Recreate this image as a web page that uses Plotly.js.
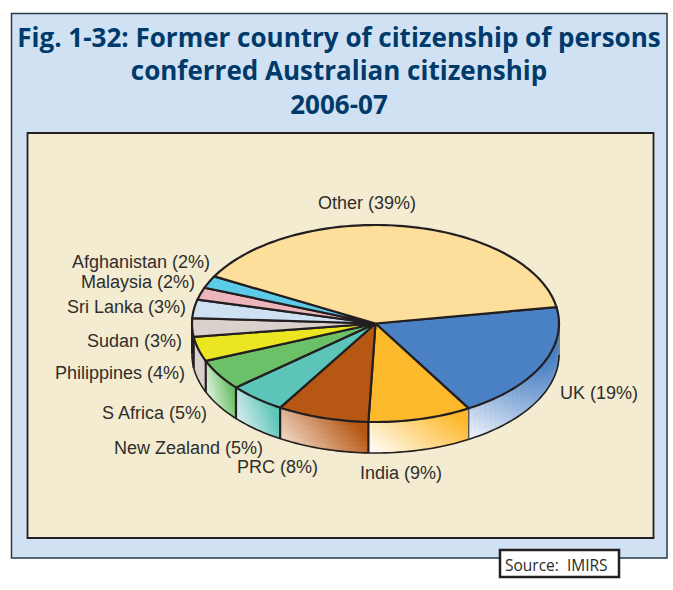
<!DOCTYPE html>
<html>
<head>
<meta charset="utf-8">
<script src="https://cdn.plot.ly/plotly-3.0.1.min.js"></script>
<style>html,body{margin:0;padding:0;background:#fff;}</style>
</head>
<body>
<div id="chart" style="width:673px;height:590px;"></div>
<script>
// ---- chart data ----
const categories = ['UK','India','PRC','New Zealand','S Africa','Philippines','Sudan','Sri Lanka','Malaysia','Afghanistan','Other'];
const shares = [19,9,8,5,5,4,3,3,2,2,39];
const sliceColors = ['#4a80c4','#fdb92c','#b65713','#5cc4b8','#6cc068','#ece622','#dbd1cc','#cde1f3','#ecb4bb','#5bcbe8','#fddf9b'];
const wallColors = ['#4a80c4','#fdb92c','#b65713','#5cc4b8','#6cc068','#d9d0cc','#d9d0cc','#d9d0cc','#d9d0cc','#d9d0cc','#d9d0cc'];
const wallPale = ['#f2f5fc','#ffffff','#f0d8c8','#d8eeee','#e4f2e0','#d9d0cc','#d9d0cc','#d9d0cc','#d9d0cc','#d9d0cc','#d9d0cc'];
const labelPos = [[599,393],[401,473],[277,467],[188,448],[154.5,413],[119.5,373],[134.5,341],[126,307],[137.5,282],[140.5,262],[367,203]];
const sourceText = 'Source:  IMIRS';
const titleText = 'Fig. 1-32: Former country of citizenship of persons<br>conferred Australian citizenship<br>2006-07';

// ---- pie geometry (axis units are page pixels) ----
const cx = 375.5, cy = 323.5, rx = 183.5, ry = 98.5, depth = 31, startDeg = 9.6;
const ink = '#231f20';
const total = shares.reduce((a,b)=>a+b,0);
const px = d => cx + rx*Math.cos(d*Math.PI/180);
const py = (d,z=0) => cy - ry*Math.sin(d*Math.PI/180) + z;
const hex = c => [1,3,5].map(i=>parseInt(c.substr(i,2),16));
const mix = (a,b,t) => { const A=hex(a),B=hex(b); return 'rgb('+A.map((v,i)=>Math.round(v+(B[i]-v)*t)).join(',')+')'; };

let edges=[startDeg];
shares.forEach(v=>edges.push(edges[edges.length-1]-v/total*360));

const traces=[];
function poly(xs,ys,fill,lineColor,lw){
  traces.push({type:'scatter',mode:'lines',x:xs,y:ys,fill:fill?'toself':'none',fillcolor:fill||undefined,
    line:{color:lineColor,width:lw,simplify:false},hoverinfo:'skip',showlegend:false});
}

// visible side wall: -180..0 degrees, shaded pale lower-left to full colour upper-right
const rows=6;
shares.forEach((v,i)=>{
  const a0=Math.min(edges[i],0), a1=Math.max(edges[i+1],-180);
  if(a0<=a1) return;
  const wdPx=Math.abs(px(a0)-px(a1));
  const n=Math.max(2,Math.round(wdPx/3));
  const xl=px(a1), xr=px(a0);
  for(let c=n-1;c>=0;c--){
    const b1=a0+(a1-a0)*c/n, b2=a0+(a1-a0)*(c+1)/n;
    for(let r=0;r<rows;r++){
      const z1=depth*r/rows, z2=depth*(r+1)/rows;
      const u=((px(b1)+px(b2))/2-xl)/(xr-xl);
      const w=(r+0.5)/rows;
      const t=Math.min(1,Math.max(0,0.85*Math.pow(u,1.1)+0.3*(1-w)));
      const col=mix(wallPale[i],wallColors[i],t);
      poly([px(b1),px(b2),px(b2),px(b1),px(b1)],[py(b1,z1),py(b2,z1),py(b2,z2),py(b1,z2),py(b1,z1)],col,col,1);
    }
  }
});
// wall outline
(function(){
  const xs=[],ys=[];
  for(let d=0;d>=-180;d-=1.5){xs.push(px(d));ys.push(py(d,depth));}
  poly(xs,ys,null,ink,1.6);
  poly([px(0),px(0)],[py(0),py(0,depth)],null,'#6f7f99',1.4);
  poly([px(-180),px(-180)],[py(-180),py(-180,depth)],null,ink,2);
  edges.forEach((e,k)=>{ const n=((e%360)+360)%360; if(n>180&&n<360) poly([px(e),px(e)],[py(e),py(e,depth)],null,k===1?'#55575c':ink,k===1?1.4:2.2); });
})();
// top wedges
shares.forEach((v,i)=>{
  const xs=[cx],ys=[cy];
  const steps=Math.max(2,Math.ceil((edges[i]-edges[i+1])/1.5));
  for(let s=0;s<=steps;s++){const d=edges[i]+(edges[i+1]-edges[i])*s/steps; xs.push(px(d)); ys.push(py(d));}
  xs.push(cx);ys.push(cy);
  poly(xs,ys,sliceColors[i],ink,2.2);
});

const annotations=categories.map((c,i)=>({
  x:labelPos[i][0],y:labelPos[i][1],xref:'x',yref:'y',text:c+' ('+shares[i]+'%)',showarrow:false,
  xanchor:'center',yanchor:'middle',font:{family:'Liberation Sans, Arial, sans-serif',size:18,color:'#2f2d2e'}
}));
annotations.push({x:503,y:565,xref:'x',yref:'y',text:sourceText,showarrow:false,xanchor:'left',yanchor:'middle',
  font:{family:'Open Sans, sans-serif',size:15.5,color:'#2b2b2b'}});

const shapes=[
  {type:'rect',layer:'below',xref:'x',yref:'y',x0:11.5,x1:667,y0:13.5,y1:558,fillcolor:'#cfe1f2',line:{color:'#2b3a45',width:1.5}},
  {type:'rect',layer:'below',xref:'x',yref:'y',x0:27.5,x1:653.5,y0:133,y1:538,fillcolor:'#f3ecd0',line:{color:'#231f20',width:1.8}},
  {type:'rect',layer:'above',xref:'x',yref:'y',x0:500,x1:619,y0:550,y1:577,fillcolor:'#ffffff',line:{color:'#231f20',width:2.5}}
];

Plotly.newPlot('chart',traces,{
  width:673,height:590,margin:{l:0,r:0,t:0,b:0},paper_bgcolor:'#ffffff',plot_bgcolor:'rgba(0,0,0,0)',
  title:{text:titleText,x:339/673,xanchor:'center',xref:'paper',y:1-46.5/590,yanchor:'top',yref:'container',
    font:{family:'Open Sans, sans-serif',size:26,weight:700,color:'#003a6b'}},
  xaxis:{range:[0,673],visible:false,fixedrange:true},
  yaxis:{range:[590,0],visible:false,fixedrange:true},
  showlegend:false,shapes,annotations,hovermode:false
},{displayModeBar:false,staticPlot:true});
</script>
</body>
</html>
